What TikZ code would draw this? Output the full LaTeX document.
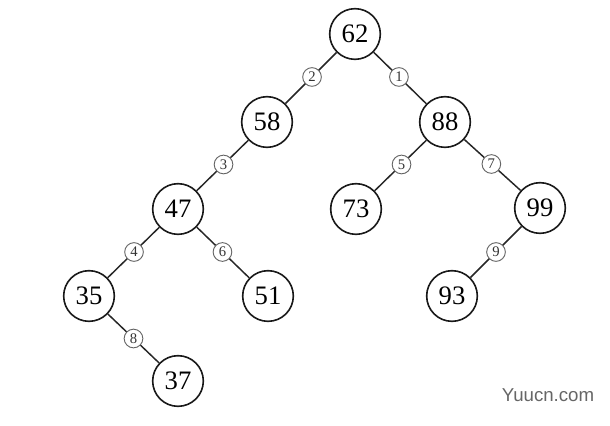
\documentclass[tikz,border=0pt]{standalone}
\usepackage{fontspec}
\setmainfont{Liberation Serif}
\newfontfamily\wmfont{Liberation Sans}
\begin{document}
\begin{tikzpicture}[x=0.75pt,y=-0.75pt,
  keynode/.style={circle,draw=black!90,line width=1.2pt,minimum size=38pt,inner sep=0pt,fill=white,font=\fontsize{20}{21}\selectfont},
  ordlabel/.style={circle,draw=black!60,line width=0.7pt,minimum size=14pt,inner sep=0pt,fill=white,text=black!80,font=\fontsize{11}{12}\selectfont},
  edge/.style={draw=black!85,line width=1.1pt}]
\useasboundingbox (0,0) rectangle (610,425);
\node[keynode] (n62) at (355,34) {62};
\node[keynode] (n58) at (267,122) {58};
\node[keynode] (n88) at (445,122) {88};
\node[keynode] (n47) at (178,209) {47};
\node[keynode] (n73) at (356,209) {73};
\node[keynode] (n99) at (540,208) {99};
\node[keynode] (n35) at (89,296) {35};
\node[keynode] (n51) at (268,296) {51};
\node[keynode] (n93) at (452,296) {93};
\node[keynode] (n37) at (178,381) {37};
\draw[edge] (n62) -- node[ordlabel,pos=0.48] (l2) {2} (n58);
\draw[edge] (n62) -- node[ordlabel,pos=0.48] (l1) {1} (n88);
\draw[edge] (n58) -- node[ordlabel,pos=0.48] (l3) {3} (n47);
\draw[edge] (n88) -- node[ordlabel,pos=0.48] (l5) {5} (n73);
\draw[edge] (n88) -- node[ordlabel,pos=0.48] (l7) {7} (n99);
\draw[edge] (n47) -- node[ordlabel,pos=0.49] (l4) {4} (n35);
\draw[edge] (n47) -- node[ordlabel,pos=0.49] (l6) {6} (n51);
\draw[edge] (n99) -- node[ordlabel,pos=0.5] (l9) {9} (n93);
\draw[edge] (n35) -- node[ordlabel,pos=0.5] (l8) {8} (n37);
\node[text=black!60,font=\wmfont\fontsize{14}{15}\selectfont] (wm) at (548,395) {Yuucn.com};
\end{tikzpicture}
\end{document}
